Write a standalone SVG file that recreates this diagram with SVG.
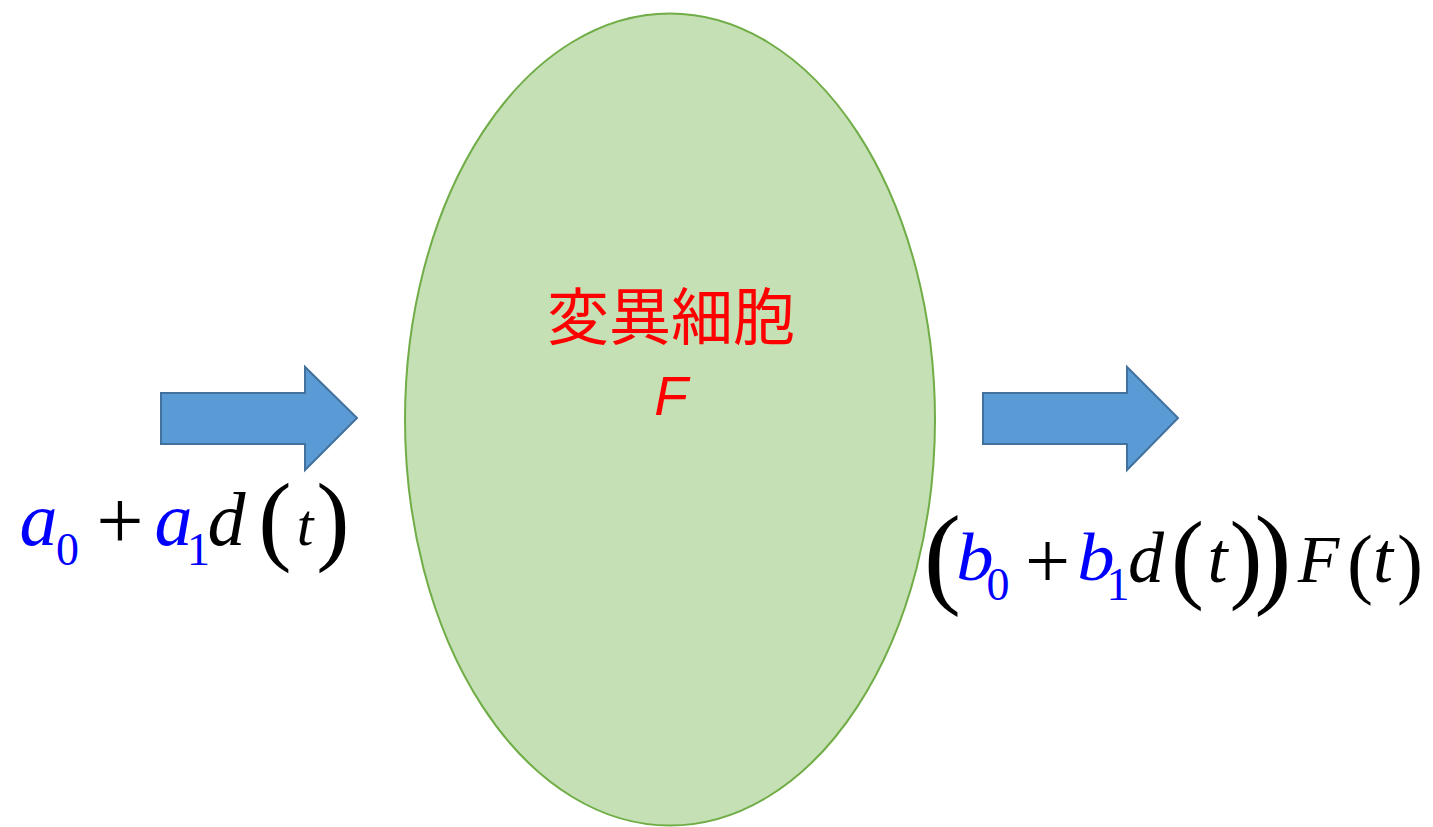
<svg xmlns="http://www.w3.org/2000/svg" width="1433" height="827" viewBox="0 0 1433 827">
<style>
.arrow{fill:#5B9BD5;stroke:#41719C;stroke-width:2;stroke-linejoin:miter}
.m{font-family:"Liberation Serif","Times New Roman",serif;font-style:italic;text-anchor:middle;fill:#000}
.u{font-family:"Liberation Serif","Times New Roman",serif;text-anchor:middle;fill:#000}
.b{fill:#0000FF}
.red{fill:#FF0000;text-anchor:middle}
</style>
<rect width="1433" height="827" fill="#fff"/>
<g id="cell">
<ellipse cx="670" cy="419.5" rx="265" ry="406" fill="#C5E0B4" stroke="#70AD47" stroke-width="2"/>
<text class="red" x="671" y="340" font-family="'Noto Sans CJK JP','Noto Sans CJK SC',sans-serif" font-size="62">変異細胞</text>
<text class="red" x="671" y="415" font-family="'Liberation Sans',sans-serif" font-style="italic" font-size="55">F</text>
</g>
<g id="connectors">
<polygon id="arrow-in" class="arrow" points="161,393 305,393 305,367 357,418 305,470 305,444 161,444"/>
<polygon id="arrow-out" class="arrow" points="983,393 1127,393 1127,367 1178,418 1127,470 1127,444 983,444"/>
</g>
<g id="input-label">
<text class="m b" x="38.5" y="545" font-size="76">a</text>
<text class="u b" x="67.5" y="565" font-size="46">0</text>
<text class="u" x="120" y="549" font-size="84">+</text>
<text class="m b" x="173.5" y="545" font-size="76">a</text>
<text class="u b" x="198.5" y="565" font-size="46">1</text>
<text class="m" x="226.5" y="545" font-size="76">d</text>
<text class="u" x="275" y="552" font-size="100">(</text>
<text class="m" x="305" y="545" font-size="60">t</text>
<text class="u" x="333" y="552" font-size="100">)</text>
</g>
<g id="output-label">
<text class="u" x="942.5" y="593" font-size="112">(</text>
<text class="m b" transform="translate(975,580) scale(1.1,1)" font-size="68">b</text>
<text class="u b" x="998" y="600" font-size="46">0</text>
<text class="u" x="1047.5" y="588" font-size="80">+</text>
<text class="m b" transform="translate(1096,580) scale(1.1,1)" font-size="68">b</text>
<text class="u b" x="1118" y="600" font-size="46">1</text>
<text class="m" x="1146" y="582" font-size="72">d</text>
<text class="u" x="1187.5" y="590" font-size="99">(</text>
<text class="m" x="1217.5" y="582" font-size="72">t</text>
<text class="u" x="1246" y="590" font-size="99">)</text>
<text class="u" x="1273" y="593" font-size="112">)</text>
<text class="m" x="1318.5" y="582" font-size="68">F</text>
<text class="u" x="1360" y="589" font-size="78">(</text>
<text class="m" x="1383" y="582" font-size="72">t</text>
<text class="u" x="1410" y="589" font-size="78">)</text>
</g>
</svg>
